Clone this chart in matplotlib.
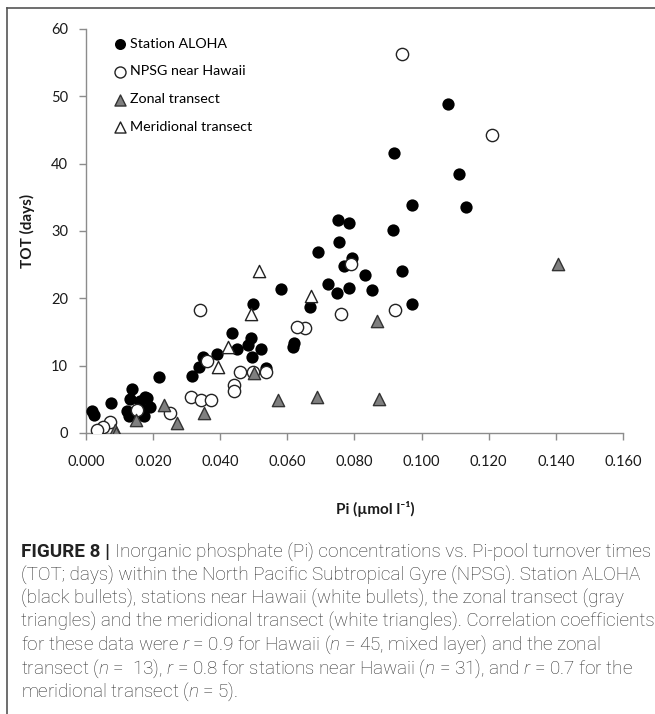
import matplotlib
matplotlib.use("Agg")
import matplotlib.pyplot as plt
from matplotlib import font_manager
from matplotlib.lines import Line2D

# data: Pi (umol/l) vs turnover time (days)
aloha_pi = [0.0017, 0.0025, 0.0075, 0.0137, 0.0132, 0.0122, 0.0128, 0.0160, 0.0175,
            0.0182, 0.0172, 0.0192, 0.0165, 0.0218, 0.0315, 0.0337, 0.0350, 0.0390,
            0.0436, 0.0451, 0.0499, 0.0493, 0.0484, 0.0496, 0.0522, 0.0535, 0.0580,
            0.0620, 0.0617, 0.0668, 0.0690, 0.0720, 0.0747, 0.0754, 0.0770, 0.0784,
            0.0792, 0.0830, 0.0853, 0.0914, 0.0943, 0.0970, 0.0752, 0.0785, 0.0970,
            0.0919, 0.1078, 0.1110, 0.1132]
aloha_tot = [3.2, 2.6, 4.4, 6.6, 5.0, 3.2, 2.5, 4.8, 5.4,
             5.2, 2.5, 3.8, 3.5, 8.3, 8.4, 9.8, 11.3, 11.7,
             14.8, 12.5, 19.2, 14.1, 13.0, 11.3, 12.4, 9.6, 21.4,
             13.3, 12.7, 18.7, 26.9, 22.1, 20.8, 28.3, 24.8, 21.5,
             26.0, 23.5, 21.3, 30.2, 24.1, 19.1, 31.6, 31.2, 33.9,
             41.6, 48.8, 38.5, 33.6]

npsg_pi = [0.0941, 0.1210, 0.0790, 0.0760, 0.0920, 0.0653, 0.0628, 0.0340, 0.0362,
           0.0459, 0.0499, 0.0535, 0.0442, 0.0442, 0.0312, 0.0343, 0.0372, 0.0250,
           0.0151, 0.0072, 0.0052, 0.0032]
npsg_tot = [56.3, 44.2, 25.1, 17.7, 18.2, 15.6, 15.8, 18.2, 10.7,
            9.0, 9.1, 9.1, 7.1, 6.2, 5.3, 4.9, 4.9, 2.9,
            3.4, 1.7, 0.9, 0.5]

zonal_pi = [0.1406, 0.0866, 0.0688, 0.0873, 0.0571, 0.0502, 0.0352, 0.0272, 0.0232,
            0.0148, 0.0087, 0.0090]
zonal_tot = [25.1, 16.7, 5.4, 5.0, 4.9, 8.9, 3.0, 1.5, 4.2,
             2.0, 0.4, 0.0]

merid_pi = [0.0514, 0.0670, 0.0492, 0.0422, 0.0394]
merid_tot = [24.0, 20.4, 17.7, 12.7, 9.8]

x_ticks = [0.0, 0.02, 0.04, 0.06, 0.08, 0.10, 0.12, 0.14, 0.16]
y_ticks = [0, 10, 20, 30, 40, 50, 60]


def pick_font(names):
    for n in names:
        try:
            font_manager.findfont(n, fallback_to_default=False)
            return n
        except Exception:
            pass
    return "DejaVu Sans"


chart_font = pick_font(["Lato", "Open Sans", "DejaVu Sans"])
cap_font = pick_font(["Roboto", "Liberation Sans"])

plt.rcParams["font.family"] = [chart_font, "DejaVu Sans"]
plt.rcParams["mathtext.fontset"] = "custom"
plt.rcParams["mathtext.rm"] = cap_font + ":light"
plt.rcParams["mathtext.it"] = cap_font + ":italic:light"
plt.rcParams["mathtext.bf"] = cap_font + ":bold"

fig = plt.figure(figsize=(6.55, 7.14), dpi=100)
ax = fig.add_axes([0.1313, 0.3936, 0.8198, 0.5658])

ms = 78
ax.scatter(aloha_pi, aloha_tot, s=ms, marker="o", color="black", linewidths=0,
           label="Station ALOHA", zorder=3)
ax.scatter(npsg_pi, npsg_tot, s=ms, marker="o", facecolor="white", edgecolor="#222222",
           linewidths=1.0, label="NPSG near Hawaii", zorder=4)
ax.scatter(zonal_pi, zonal_tot, s=ms, marker="^", facecolor="#7f7f7f", edgecolor="#333333",
           linewidths=1.0, label="Zonal transect", zorder=5)
ax.scatter(merid_pi, merid_tot, s=ms, marker="^", facecolor="white", edgecolor="#222222",
           linewidths=1.0, label="Meridional transect", zorder=6)

ax.set_xlim(0, 0.16)
ax.set_ylim(0, 60)
ax.set_xticks(x_ticks)
ax.set_yticks(y_ticks)
ax.set_xticklabels(["%.3f" % v for v in x_ticks])
for s in ["top", "right"]:
    ax.spines[s].set_visible(False)
for s in ["left", "bottom"]:
    ax.spines[s].set_color("#8c8c8c")
    ax.spines[s].set_linewidth(1.0)
ax.tick_params(axis="both", direction="out", length=5, width=1, color="#8c8c8c",
               labelsize=10.5, labelcolor="#1a1a1a")
ax.tick_params(axis="x", pad=11)
ax.tick_params(axis="y", pad=8)

ax.set_xlabel("Pi (µmol l⁻¹)", fontsize=11, fontweight="bold", color="#1a1a1a")
ax.xaxis.set_label_coords(0.538, -0.168)
ax.set_ylabel("TOT (days)", fontsize=11, fontweight="bold", color="#1a1a1a")
ax.yaxis.set_label_coords(-0.095, 0.5)

ax.legend(loc="upper left", bbox_to_anchor=(0.039, 0.993), frameon=False, fontsize=10.3,
          handlelength=1.0, handletextpad=0.2, labelspacing=1.11, markerscale=0.9,
          borderaxespad=0.0)

# figure frame (left and top rules)
fig.add_artist(Line2D([7 / 655, 7 / 655], [0, 1 - 8 / 714], transform=fig.transFigure,
                      color="#555555", lw=1.2))
fig.add_artist(Line2D([7 / 655, 1], [1 - 8 / 714, 1 - 8 / 714], transform=fig.transFigure,
                      color="#555555", lw=1.2))

# caption
cap_lines = [
    None,
    "(TOT; days) within the North Pacific Subtropical Gyre (NPSG). Station ALOHA",
    "(black bullets), stations near Hawaii (white bullets), the zonal transect (gray",
    "triangles) and the meridional transect (white triangles). Correlation coefficients",
    "for these data were $r$ = 0.9 for Hawaii ($n$ = 45, mixed layer) and the zonal",
    "transect ($n$ =  13), $r$ = 0.8 for stations near Hawaii ($n$ = 31), and $r$ = 0.7 for the",
    "meridional transect ($n$ = 5).",
]
cap_size = 13.6
x0 = 21 / 655
line_y = [552, 575.3, 598.6, 621.9, 645.2, 668.5, 691.8]
cap_kw = dict(fontsize=cap_size, family=[cap_font, "DejaVu Sans"], va="center")
renderer = fig.canvas.get_renderer()
t = fig.text(x0, 1 - line_y[0] / 714, "FIGURE 8 | ", fontweight="bold", color="#222222",
             **cap_kw)
w = t.get_window_extent(renderer).width / fig.bbox.width
fig.text(x0 + w, 1 - line_y[0] / 714,
         "Inorganic phosphate (Pi) concentrations vs. Pi-pool turnover times",
         fontweight="light", color="#2e2e2e", **cap_kw)
for txt, yy in zip(cap_lines[1:], line_y[1:]):
    fig.text(x0, 1 - yy / 714, txt, fontweight="light", color="#2e2e2e", **cap_kw)

fig.savefig("out.png", dpi=100)
